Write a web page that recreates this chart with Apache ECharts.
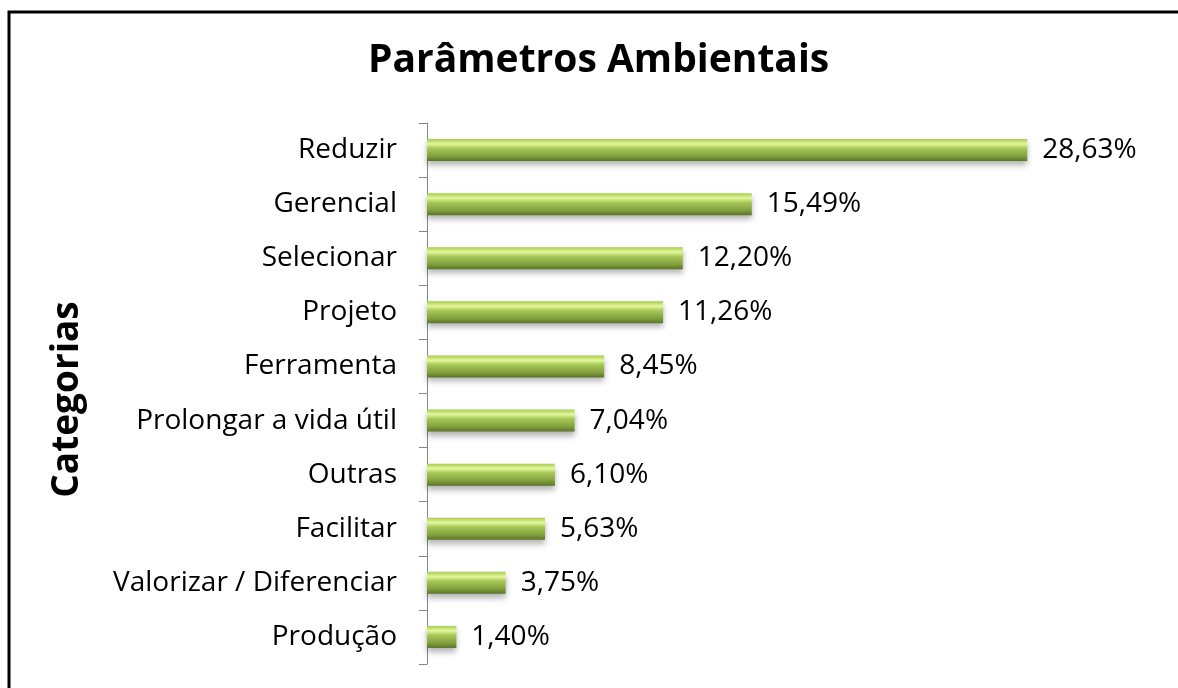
<!DOCTYPE html>
<html>
<head>
<meta charset="utf-8">
<style>
html, body { margin: 0; padding: 0; background: #fff; }
#chart { width: 1178px; height: 688px; }
</style>
<script src="https://cdn.jsdelivr.net/npm/echarts@6/dist/echarts.min.js"></script>
</head>
<body>
<div id="chart"></div>
<script>
// dados
var categorias = ['Reduzir', 'Gerencial', 'Selecionar', 'Projeto', 'Ferramenta',
    'Prolongar a vida útil', 'Outras', 'Facilitar', 'Valorizar / Diferenciar', 'Produção'];
var valores = [28.63, 15.49, 12.20, 11.26, 8.45, 7.04, 6.10, 5.63, 3.75, 1.40];

var fonte = '"Open Sans", sans-serif';

var chart = echarts.init(document.getElementById('chart'));
var option = {
    backgroundColor: '#fff',
    animation: false,
    title: {
        text: 'Parâmetros Ambientais',
        left: 363,
        top: 36,
        textStyle: { fontFamily: fonte, fontSize: 39, fontWeight: 'bold', color: '#000' }
    },
    graphic: [{
        type: 'rect',
        shape: { x: 9, y: 12, width: 1200, height: 700 },
        style: { fill: 'none', stroke: '#000', lineWidth: 3 },
        silent: true
    }],
    grid: { left: 427, right: 122, top: 123, bottom: 24 },
    xAxis: {
        type: 'value',
        min: 0,
        max: 30,
        show: false
    },
    yAxis: {
        type: 'category',
        inverse: true,
        data: categorias,
        name: 'Categorias',
        nameLocation: 'middle',
        nameRotate: 90,
        nameGap: 341,
        nameTextStyle: { fontFamily: fonte, fontSize: 37, fontWeight: 'bold', color: '#000', padding: [0, 12, 0, 0] },
        axisLine: { show: true, lineStyle: { color: '#868686', width: 1 } },
        axisTick: { show: true, length: 8, lineStyle: { color: '#868686' } },
        axisLabel: { fontFamily: fonte, fontSize: 28, color: '#000', margin: 30 }
    },
    series: [{
        type: 'bar',
        data: valores,
        barWidth: 22,
        itemStyle: {
            color: new echarts.graphic.LinearGradient(0, 0, 0, 1, [
                { offset: 0, color: '#a8cc50' },
                { offset: 0.22, color: '#e4f79c' },
                { offset: 0.42, color: '#a6c957' },
                { offset: 0.78, color: '#819f3e' },
                { offset: 1, color: '#5a7427' }
            ]),
            shadowColor: 'rgba(0,0,0,0.3)',
            shadowBlur: 6,
            shadowOffsetY: 4
        },
        label: {
            show: true,
            position: 'right',
            distance: 15,
            fontFamily: fonte,
            fontSize: 28,
            color: '#000',
            formatter: function (p) { return p.value.toFixed(2).replace('.', ',') + '%'; }
        }
    }]
};
chart.setOption(option);
</script>
</body>
</html>
